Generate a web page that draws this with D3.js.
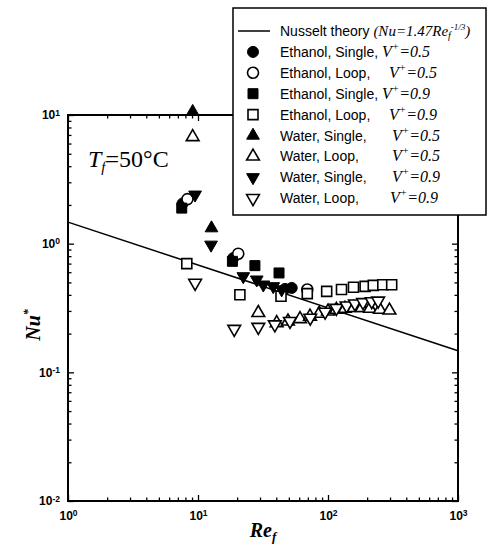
<!DOCTYPE html>
<html>
<head>
<meta charset="utf-8">
<script src="https://cdn.jsdelivr.net/npm/d3@7"></script>
<style>
  html, body { margin: 0; padding: 0; background: #fff; }
  svg { display: block; }
</style>
</head>
<body>
<svg id="chart" width="491" height="552"></svg>
<script>
// Heat-transfer data: Nu* against film Reynolds number Re_f, each point [Re_f, Nu*]
const ethanolSingle05 = [[7.6, 2.05], [18.7, 0.774], [46.7, 0.445], [52.6, 0.453]];
const ethanolLoop05   = [[8.3, 2.22], [20.4, 0.836], [69.3, 0.44]];
const ethanolSingle09 = [[7.5, 1.89], [18.4, 0.729], [27.4, 0.675], [42.0, 0.592]];
const ethanolLoop09   = [[8.2, 0.70], [21.0, 0.401], [43.5, 0.39], [69.3, 0.409], [97.7, 0.426],
                         [127, 0.44], [157, 0.458], [193, 0.466], [223, 0.474], [264, 0.48], [309, 0.48]];
const waterSingle05   = [[9.1, 10.6], [12.7, 1.32]];
const waterLoop05     = [[9.1, 6.75], [29.1, 0.29], [40.3, 0.242], [49.2, 0.249], [60.9, 0.26], [72.7, 0.272],
                         [85.5, 0.286], [100, 0.298], [116, 0.307], [135, 0.313], [157, 0.317], [182, 0.317],
                         [210, 0.313], [251, 0.307], [297, 0.303]];
const waterSingle09   = [[9.5, 2.4], [12.6, 0.98], [22.3, 0.557], [28.3, 0.525], [31.8, 0.48],
                         [37.9, 0.466], [44.0, 0.44]];
const waterLoop09     = [[9.5, 0.495], [19.0, 0.217], [29.1, 0.225], [39.0, 0.235], [51.0, 0.25], [73.0, 0.265],
                         [95.0, 0.295], [116, 0.316], [139, 0.33], [161, 0.342], [186, 0.35], [217, 0.356], [243, 0.36]];

// Nusselt theory Nu = 1.47 Re_f^(-1/3), straight on log-log axes
const theoryRe = [1, 1000];
const theoryNu = [1.47, 0.147];

const xDomain = [1, 1000];
const yDomain = [0.01, 10];
const xMajorTicks = [1, 10, 100, 1000];
const yMajorTicks = [0.01, 0.1, 1, 10];

const legendLabels = [
  ["Ethanol, Single, ", "0.5"],
  ["Ethanol, Loop, ",   "0.5"],
  ["Ethanol, Single, ", "0.9"],
  ["Ethanol, Loop, ",   "0.9"],
  ["Water, Single, ",   "0.5"],
  ["Water, Loop, ",     "0.5"],
  ["Water, Single, ",   "0.9"],
  ["Water, Loop, ",     "0.9"]
];

const series = [
  { data: ethanolSingle05, shape: "circle",   filled: true  },
  { data: ethanolLoop05,   shape: "circle",   filled: false },
  { data: ethanolSingle09, shape: "square",   filled: true  },
  { data: ethanolLoop09,   shape: "square",   filled: false },
  { data: waterSingle05,   shape: "triUp",    filled: true  },
  { data: waterLoop05,     shape: "triUp",    filled: false },
  { data: waterSingle09,   shape: "triDown",  filled: true  },
  { data: waterLoop09,     shape: "triDown",  filled: false }
];

const svg = d3.select("#chart");
const plot = { left: 68, right: 458, top: 115, bottom: 501 };

const x = d3.scaleLog().domain(xDomain).range([plot.left, plot.right]);
const y = d3.scaleLog().domain(yDomain).range([plot.bottom, plot.top]);

const minorX = x.ticks().filter(v => !xMajorTicks.includes(v));
const minorY = y.ticks().filter(v => !yMajorTicks.map(t => +t.toPrecision(3)).includes(+v.toPrecision(3)));

// inward ticks on all four sides
function tickAxis(axisFn, scale, values, size, transform) {
  const g = svg.append("g").attr("transform", transform)
    .call(axisFn(scale).tickValues(values).tickSize(-size).tickFormat(""));
  g.select(".domain").remove();
  g.selectAll("line").attr("stroke", "#000").attr("stroke-width", 1.3);
  return g;
}
tickAxis(d3.axisBottom, x, xMajorTicks, 6, `translate(0,${plot.bottom})`);
tickAxis(d3.axisBottom, x, minorX, 3.5, `translate(0,${plot.bottom})`);
tickAxis(d3.axisTop, x, xMajorTicks, 6, `translate(0,${plot.top})`);
tickAxis(d3.axisTop, x, minorX, 3.5, `translate(0,${plot.top})`);
tickAxis(d3.axisLeft, y, yMajorTicks, 6, `translate(${plot.left},0)`);
tickAxis(d3.axisLeft, y, minorY, 3.5, `translate(${plot.left},0)`);
tickAxis(d3.axisRight, y, yMajorTicks, 6, `translate(${plot.right},0)`);
tickAxis(d3.axisRight, y, minorY, 3.5, `translate(${plot.right},0)`);

// power-of-ten tick labels
function powerLabels(sel) {
  sel.each(function(d) {
    const t = d3.select(this);
    const e = Math.round(Math.log10(d));
    t.text(null);
    t.append("tspan").text("10");
    t.append("tspan").attr("dy", "-0.45em").attr("font-size", "8.5px").text(e);
  });
}
const xLab = svg.append("g").attr("transform", `translate(0,${plot.bottom})`)
  .call(d3.axisBottom(x).tickValues(xMajorTicks).tickSize(0).tickPadding(10));
xLab.select(".domain").remove();
xLab.selectAll("text").attr("font-family", "Liberation Sans, Arial, sans-serif")
  .attr("font-size", 12).attr("font-weight", "bold").attr("fill", "#000").call(powerLabels);

const yLab = svg.append("g").attr("transform", `translate(${plot.left},0)`)
  .call(d3.axisLeft(y).tickValues(yMajorTicks).tickSize(0).tickPadding(8));
yLab.select(".domain").remove();
yLab.selectAll("text").attr("font-family", "Liberation Sans, Arial, sans-serif")
  .attr("font-size", 12).attr("font-weight", "bold").attr("fill", "#000").call(powerLabels);

// frame
svg.append("rect")
  .attr("x", plot.left).attr("y", plot.top)
  .attr("width", plot.right - plot.left).attr("height", plot.bottom - plot.top)
  .attr("fill", "none").attr("stroke", "#000").attr("stroke-width", 2);

// theory line
const line = d3.line().x(d => x(d[0])).y(d => y(d[1]));
svg.append("path")
  .datum(theoryRe.map((r, i) => [r, theoryNu[i]]))
  .attr("d", line).attr("fill", "none").attr("stroke", "#000").attr("stroke-width", 1.5);

// marker shapes
function symbolPath(shape) {
  if (shape === "circle") return d3.symbol(d3.symbolCircle, 95)();
  if (shape === "square") return d3.symbol(d3.symbolSquare, 100)();
  return d3.symbol(d3.symbolTriangle, 70)();
}
function placeMarker(sel, shape, filled) {
  sel.attr("d", symbolPath(shape))
    .attr("fill", filled ? "#000" : "#fff")
    .attr("stroke", "#000")
    .attr("stroke-width", filled ? 1 : 1.6);
}

series.forEach(s => {
  svg.append("g").selectAll("path").data(s.data).join("path")
    .call(placeMarker, s.shape, s.filled)
    .attr("transform", d => `translate(${x(d[0])},${y(d[1])})${s.shape === "triDown" ? " rotate(180)" : ""}`);
});

// T_f annotation
const tf = svg.append("text").attr("x", 88).attr("y", 167)
  .attr("font-family", "Liberation Serif, Times New Roman, serif").attr("font-size", 24).attr("fill", "#000");
tf.append("tspan").attr("font-style", "italic").text("T");
tf.append("tspan").attr("font-style", "italic").attr("font-size", 15).attr("dy", 5).text("f");
tf.append("tspan").attr("dy", -5).text("=50°C");

// axis titles
const xt = svg.append("text").attr("x", (plot.left + plot.right) / 2).attr("y", 537)
  .attr("text-anchor", "middle").attr("font-family", "Liberation Serif, Times New Roman, serif")
  .attr("font-style", "italic").attr("font-weight", "bold").attr("font-size", 20).attr("fill", "#000");
xt.append("tspan").text("Re");
xt.append("tspan").attr("font-size", 13).attr("dy", 4).text("f");

const yt = svg.append("text").attr("transform", `translate(40,${(plot.top + plot.bottom) / 2 + 17}) rotate(-90)`)
  .attr("text-anchor", "middle").attr("font-family", "Liberation Serif, Times New Roman, serif")
  .attr("font-style", "italic").attr("font-weight", "bold").attr("font-size", 20).attr("fill", "#000");
yt.append("tspan").text("Nu");
yt.append("tspan").attr("font-size", 12).attr("dy", -8).text("*");

// legend
const lg = { x0: 233, y0: 8, x1: 486, y1: 215, row0: 31, step: 20.9, sym: 253, text: 280 };
const legend = svg.append("g");
legend.append("rect").attr("x", lg.x0).attr("y", lg.y0)
  .attr("width", lg.x1 - lg.x0).attr("height", lg.y1 - lg.y0)
  .attr("fill", "#fff").attr("stroke", "#000").attr("stroke-width", 1.5);

legend.append("line").attr("x1", 238).attr("x2", 270).attr("y1", lg.row0).attr("y2", lg.row0)
  .attr("stroke", "#000").attr("stroke-width", 1.5);
const nt = legend.append("text").attr("x", lg.text).attr("y", lg.row0 + 5)
  .attr("font-family", "Liberation Sans, Arial, sans-serif").attr("font-size", 14).attr("fill", "#000");
nt.append("tspan").text("Nusselt theory ");
const serif = "Liberation Serif, Times New Roman, serif";
nt.append("tspan").attr("font-family", serif).attr("font-style", "italic").attr("font-size", 15).text("(Nu=1.47Re");
nt.append("tspan").attr("font-family", serif).attr("font-style", "italic").attr("font-size", 10).attr("dy", 3).text("f");
nt.append("tspan").attr("font-family", serif).attr("font-style", "italic").attr("font-size", 9).attr("dy", -9).text("-1/3");
nt.append("tspan").attr("font-family", serif).attr("font-style", "italic").attr("font-size", 15).attr("dy", 6).text(")");

const vPos = [382, 389, 382, 389, 392, 392, 392, 390];
series.forEach((s, i) => {
  const cy = lg.row0 + lg.step * (i + 1);
  legend.append("path").call(placeMarker, s.shape, s.filled)
    .attr("transform", `translate(${lg.sym},${cy})${s.shape === "triDown" ? " rotate(180)" : ""}`);
  legend.append("text").attr("x", lg.text).attr("y", cy + 5)
    .attr("font-family", "Liberation Sans, Arial, sans-serif").attr("font-size", 14).attr("fill", "#000")
    .text(legendLabels[i][0]);
  const vt = legend.append("text").attr("x", vPos[i]).attr("y", cy + 5)
    .attr("font-family", serif).attr("font-style", "italic").attr("font-size", 16).attr("fill", "#000");
  vt.append("tspan").text("V");
  vt.append("tspan").attr("font-size", 11).attr("dy", -7).text("+");
  vt.append("tspan").attr("dy", 7).text("=" + legendLabels[i][1]);
});
</script>
</body>
</html>
